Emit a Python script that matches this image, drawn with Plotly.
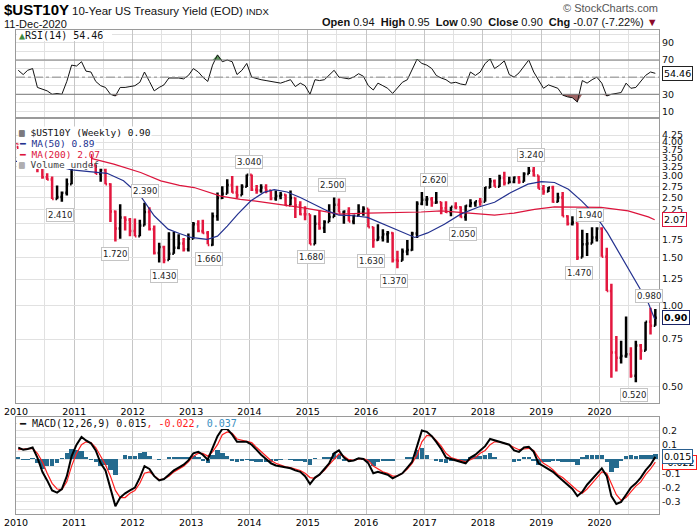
import numpy as np
import pandas as pd
import plotly.graph_objects as go

# ---- data: monthly bars, Jan 2010 .. Dec 2020 ----
bar_open = [
    3.84, 3.63, 3.61, 3.84, 3.69, 3.31, 2.97, 2.91, 2.47, 2.51, 2.60, 2.80,
    3.30, 3.38, 3.42, 3.47, 3.29, 3.06, 3.16, 2.80, 2.22, 1.92, 2.11, 2.07,
    1.88, 1.80, 1.97, 2.21, 1.91, 1.56, 1.64, 1.47, 1.55, 1.63, 1.69, 1.61,
    1.76, 1.99, 1.88, 1.85, 1.67, 2.13, 2.49, 2.58, 2.78, 2.61, 2.55, 2.74,
    3.03, 2.67, 2.65, 2.72, 2.65, 2.48, 2.53, 2.56, 2.34, 2.49, 2.34, 2.17,
    2.17, 1.68, 2.00, 1.93, 2.03, 2.12, 2.35, 2.20, 2.22, 2.04, 2.14, 2.21,
    2.27, 1.94, 1.74, 1.78, 1.83, 1.85, 1.47, 1.46, 1.58, 1.60, 1.84, 2.37,
    2.45, 2.46, 2.39, 2.40, 2.28, 2.21, 2.31, 2.30, 2.12, 2.33, 2.38, 2.42,
    2.41, 2.72, 2.87, 2.74, 2.95, 2.83, 2.85, 2.96, 2.86, 3.05, 3.14, 3.01,
    2.69, 2.63, 2.72, 2.41, 2.50, 2.13, 2.00, 2.02, 1.50, 1.68, 1.69, 1.78,
    1.92, 1.51, 1.13, 0.67, 0.64, 0.65, 0.66, 0.55, 0.71, 0.68, 0.87, 0.84,
]
bar_high = [
    3.86, 3.74, 3.90, 4.01, 3.69, 3.36, 3.07, 2.99, 2.77, 2.63, 2.94, 3.55,
    3.49, 3.77, 3.58, 3.60, 3.30, 3.19, 3.19, 2.82, 2.24, 2.36, 2.13, 2.10,
    2.09, 2.07, 2.39, 2.30, 1.97, 1.70, 1.66, 1.86, 1.87, 1.83, 1.77, 1.84,
    2.03, 2.06, 2.07, 1.88, 2.20, 2.61, 2.75, 2.92, 3.00, 2.76, 2.80, 3.04,
    3.04, 2.78, 2.80, 2.80, 2.66, 2.65, 2.62, 2.57, 2.65, 2.50, 2.42, 2.32,
    2.17, 2.15, 2.24, 2.06, 2.36, 2.50, 2.48, 2.24, 2.30, 2.16, 2.36, 2.32,
    2.27, 1.95, 1.99, 1.91, 1.88, 1.86, 1.59, 1.62, 1.74, 1.87, 2.42, 2.62,
    2.53, 2.51, 2.62, 2.41, 2.42, 2.31, 2.40, 2.32, 2.34, 2.46, 2.42, 2.49,
    2.73, 2.95, 2.91, 3.03, 3.11, 2.98, 2.99, 3.00, 3.10, 3.24, 3.24, 3.01,
    2.78, 2.73, 2.76, 2.60, 2.62, 2.15, 2.13, 2.02, 1.90, 1.85, 1.94, 1.94,
    1.94, 1.63, 1.20, 0.77, 0.74, 0.91, 0.70, 0.74, 0.72, 0.87, 0.98, 0.97,
]
bar_low = [
    3.58, 3.56, 3.58, 3.66, 3.10, 2.93, 2.90, 2.47, 2.46, 2.41, 2.54, 2.80,
    3.28, 3.38, 3.17, 3.28, 3.05, 2.86, 2.80, 2.03, 1.72, 1.76, 1.89, 1.80,
    1.80, 1.80, 1.97, 1.89, 1.54, 1.44, 1.43, 1.47, 1.55, 1.61, 1.58, 1.58,
    1.76, 1.86, 1.84, 1.68, 1.66, 2.05, 2.47, 2.58, 2.60, 2.48, 2.55, 2.73,
    2.64, 2.58, 2.60, 2.59, 2.44, 2.43, 2.46, 2.33, 2.34, 2.10, 2.15, 2.06,
    1.68, 1.68, 1.90, 1.85, 2.03, 2.12, 2.20, 2.00, 2.04, 1.99, 2.14, 2.14,
    1.94, 1.63, 1.73, 1.72, 1.70, 1.44, 1.37, 1.46, 1.53, 1.59, 1.77, 2.34,
    2.33, 2.31, 2.37, 2.17, 2.19, 2.13, 2.26, 2.11, 2.05, 2.30, 2.31, 2.33,
    2.41, 2.71, 2.74, 2.73, 2.77, 2.83, 2.82, 2.81, 2.86, 3.05, 2.99, 2.69,
    2.56, 2.62, 2.39, 2.40, 2.13, 1.97, 1.97, 1.47, 1.50, 1.52, 1.69, 1.72,
    1.51, 1.13, 0.54, 0.57, 0.61, 0.64, 0.54, 0.52, 0.63, 0.68, 0.78, 0.84,
]
bar_close = [
    3.63, 3.61, 3.84, 3.69, 3.31, 2.97, 2.91, 2.47, 2.51, 2.60, 2.80, 3.30,
    3.38, 3.42, 3.47, 3.29, 3.06, 3.16, 2.80, 2.22, 1.92, 2.11, 2.07, 1.88,
    1.80, 1.97, 2.21, 1.91, 1.56, 1.64, 1.47, 1.55, 1.63, 1.69, 1.61, 1.76,
    1.99, 1.88, 1.85, 1.67, 2.13, 2.49, 2.58, 2.78, 2.61, 2.55, 2.74, 3.03,
    2.67, 2.65, 2.72, 2.65, 2.48, 2.53, 2.56, 2.34, 2.49, 2.34, 2.17, 2.17,
    1.68, 2.00, 1.93, 2.03, 2.12, 2.35, 2.20, 2.22, 2.04, 2.14, 2.21, 2.27,
    1.94, 1.74, 1.78, 1.83, 1.85, 1.47, 1.46, 1.58, 1.60, 1.84, 2.37, 2.45,
    2.46, 2.39, 2.40, 2.28, 2.21, 2.31, 2.30, 2.12, 2.33, 2.38, 2.42, 2.41,
    2.72, 2.87, 2.74, 2.95, 2.83, 2.85, 2.96, 2.86, 3.05, 3.14, 3.01, 2.69,
    2.63, 2.72, 2.41, 2.50, 2.13, 2.00, 2.02, 1.50, 1.68, 1.69, 1.78, 1.92,
    1.51, 1.13, 0.67, 0.64, 0.65, 0.66, 0.55, 0.71, 0.68, 0.87, 0.84, 0.90,
]

ma50_dates = [
    "2010-01-01", "2010-07-01", "2010-12-15", "2011-04-10", "2011-07-25",
    "2011-11-05", "2012-02-20", "2012-05-15", "2012-08-10", "2012-10-20",
    "2013-01-01", "2013-04-10", "2013-06-15", "2013-08-15", "2013-10-20",
    "2014-01-10", "2014-04-01", "2014-06-05", "2014-08-25", "2014-11-15",
    "2015-02-10", "2015-05-05", "2015-07-15", "2015-10-15", "2016-01-10",
    "2016-04-20", "2016-08-05", "2016-11-01", "2017-01-20", "2017-05-05",
    "2017-08-15", "2017-12-01", "2018-03-15", "2018-06-25", "2018-10-10",
    "2019-01-01", "2019-03-25", "2019-06-20", "2019-09-10", "2019-12-01",
    "2020-02-20", "2020-05-15", "2020-08-10", "2020-11-01", "2020-12-11",
]
ma50_values = [
    3.40, 3.35, 3.16, 3.12, 3.07, 2.88, 2.53, 2.14, 1.91, 1.84,
    1.78, 1.75, 1.80, 1.96, 2.17, 2.43, 2.61, 2.67, 2.62, 2.50,
    2.36, 2.23, 2.15, 2.14, 2.11, 1.99, 1.88, 1.78, 1.85, 1.99,
    2.17, 2.30, 2.40, 2.61, 2.80, 2.86, 2.84, 2.68, 2.43, 2.17,
    1.85, 1.52, 1.24, 1.02, 0.89,
]
ma200_dates = [
    "2010-01-01", "2010-08-01", "2011-04-10", "2011-09-05", "2012-02-20",
    "2012-06-25", "2012-10-20", "2013-01-20", "2013-07-05", "2013-11-05",
    "2014-03-15", "2014-07-15", "2014-11-15", "2015-03-25", "2015-07-15",
    "2016-01-10", "2016-08-05", "2016-12-10", "2017-04-15", "2017-08-20",
    "2017-12-01", "2018-03-15", "2018-07-15", "2018-11-20", "2019-03-25",
    "2019-07-25", "2020-01-10", "2020-06-28", "2020-11-01", "2020-12-11",
]
ma200_values = [
    3.95, 3.70, 3.49, 3.32, 3.09, 2.88, 2.77, 2.72, 2.53, 2.46,
    2.41, 2.36, 2.30, 2.23, 2.17, 2.19, 2.20, 2.21, 2.23, 2.20,
    2.17, 2.15, 2.19, 2.26, 2.31, 2.30, 2.30, 2.23, 2.12, 2.07,
]

rsi_values = [
    58, 53, 58, 60, 38, 36, 34, 30, 31, 30, 45, 64,
    63, 68, 57, 56, 45, 40, 38, 30, 28, 38, 38, 39,
    40, 44, 56, 45, 34, 38, 41, 49, 49, 49, 48, 52,
    60, 56, 50, 45, 64, 76, 68, 70, 68, 53, 58, 66,
    50, 48, 47, 46, 45, 44, 43, 45, 47, 39, 43, 40,
    30, 47, 46, 47, 52, 58, 50, 49, 48, 50, 54, 51,
    40, 35, 43, 40, 37, 31, 38, 44, 47, 58, 71, 66,
    64, 60, 52, 49, 47, 43, 44, 42, 41, 56, 52, 56,
    66, 71, 60, 64, 69, 53, 50, 55, 62, 70, 56, 47,
    37, 41, 39, 37, 29, 27, 26, 21, 46, 43, 47, 50,
    43, 28, 30, 31, 32, 43, 37, 38, 45, 52, 56, 54.46,
]
macd_values = [
    0.08, 0.065, 0.07, 0.08, 0.01, -0.09, -0.15, -0.22, -0.235, -0.21, -0.12, 0.02,
    0.10, 0.155, 0.13, 0.11, 0.06, -0.03, -0.08, -0.20, -0.33, -0.27, -0.24, -0.22,
    -0.20, -0.13, -0.05, -0.07, -0.12, -0.15, -0.14, -0.11, -0.08, -0.06, -0.04, -0.01,
    0.04, 0.05, 0.03, -0.005, 0.08, 0.16, 0.21, 0.21, 0.17, 0.12, 0.12, 0.12,
    0.10, 0.06, 0.03, 0.00, -0.03, -0.045, -0.05, -0.055, -0.065, -0.08, -0.09, -0.12,
    -0.175, -0.13, -0.11, -0.07, -0.03, 0.04, 0.06, 0.01, -0.015, -0.01, 0.005, 0.00,
    -0.03, -0.10, -0.09, -0.10, -0.11, -0.135, -0.12, -0.10, -0.06, -0.02, 0.09, 0.20,
    0.19, 0.16, 0.12, 0.07, 0.01, 0.00, -0.005, -0.02, -0.03, 0.01, 0.03, 0.06,
    0.09, 0.14, 0.13, 0.12, 0.11, 0.10, 0.06, 0.05, 0.08, 0.085, 0.05, -0.03,
    -0.05, -0.07, -0.09, -0.12, -0.15, -0.18, -0.21, -0.26, -0.23, -0.18, -0.14, -0.10,
    -0.065, -0.12, -0.26, -0.315, -0.30, -0.25, -0.20, -0.17, -0.13, -0.08, -0.04, 0.015,
]
signal_values = [
    0.065, 0.07, 0.072, 0.075, 0.04, -0.02, -0.10, -0.17, -0.21, -0.215, -0.16, -0.05,
    0.04, 0.10, 0.12, 0.115, 0.08, 0.02, -0.04, -0.12, -0.22, -0.27, -0.27, -0.24,
    -0.22, -0.17, -0.10, -0.09, -0.12, -0.145, -0.14, -0.12, -0.09, -0.07, -0.05, -0.02,
    0.02, 0.04, 0.04, 0.02, 0.05, 0.10, 0.17, 0.19, 0.18, 0.14, 0.13, 0.125,
    0.115, 0.08, 0.05, 0.02, -0.01, -0.03, -0.045, -0.055, -0.06, -0.07, -0.08, -0.10,
    -0.13, -0.135, -0.11, -0.08, -0.04, 0.00, 0.035, 0.02, -0.005, -0.01, 0.00, 0.003,
    -0.01, -0.05, -0.07, -0.09, -0.10, -0.12, -0.12, -0.10, -0.07, -0.03, 0.03, 0.12,
    0.165, 0.16, 0.13, 0.09, 0.04, 0.01, 0.00, -0.01, -0.02, -0.005, 0.01, 0.04,
    0.06, 0.10, 0.12, 0.12, 0.11, 0.10, 0.08, 0.065, 0.07, 0.075, 0.06, 0.01,
    -0.03, -0.05, -0.075, -0.11, -0.13, -0.16, -0.19, -0.22, -0.24, -0.21, -0.17, -0.13,
    -0.09, -0.10, -0.17, -0.25, -0.29, -0.27, -0.23, -0.19, -0.16, -0.11, -0.07, -0.022,
]

# swing labels on the price panel
swing_dates = [
    "2010-10-01", "2011-01-25", "2011-09-15", "2012-03-18", "2012-07-16",
    "2013-04-22", "2013-12-27", "2015-01-20", "2015-06-01", "2016-02-01",
    "2016-06-25", "2017-03-03", "2017-08-28", "2018-10-26", "2019-08-23",
    "2019-11-01", "2020-08-04", "2020-11-06",
]
swing_values = [
    2.41, 3.77, 1.72, 2.39, 1.43, 1.66, 3.04, 1.68, 2.50, 1.63,
    1.37, 2.62, 2.05, 3.24, 1.47, 1.94, 0.52, 0.98,
]
swing_above = [
    False, True, False, True, False, False, True, False, True, False,
    False, True, False, True, False, True, False, True,
]

year_ticks = ["%d-01-01" % y for y in range(2010, 2021)]
price_ticks = [0.50, 0.75, 1.00, 1.25, 1.50, 1.75, 2.00, 2.25, 2.50, 2.75,
               3.00, 3.25, 3.50, 3.75, 4.00, 4.25]
price_tick_text = ["0.50", "0.75", "1.00", "1.25", "1.50", "1.75", "", "2.25", "2.50",
                   "2.75", "3.00", "3.25", "3.50", "3.75", "4.00", "4.25"]
rsi_ticks = [10, 30, 50, 70, 90]
rsi_tick_text = ["10", "30", "", "70", "90"]
macd_ticks = [-0.3, -0.2, -0.1, 0, 0.1, 0.2]
macd_tick_text = ["-0.3", "-0.2", "-0.1", "", "0.1", "0.2"]

# ---- layout helpers (pixel -> paper) ----
PLOT_L, PLOT_R, PLOT_T, PLOT_B = 16, 659, 30, 514


def px(x):
    return (x - PLOT_L) / (PLOT_R - PLOT_L)


def py(y):
    return (PLOT_B - y) / (PLOT_B - PLOT_T)


UP = "#000000"
DOWN = "#e3173e"
NAVY = "#23318f"
CRIMSON = "#dc143c"
HIST = "#246a8e"
GRID = "#e1e1e1"
YEARGRID = "#c6c6c6"
FRAME = "#9a9a9a"
MONO = "DejaVu Sans Mono"
SANS = "Liberation Sans"

months = pd.date_range("2010-01-01", periods=len(bar_close), freq="MS") + pd.Timedelta(days=14)
rsi = np.array(rsi_values)
macd = np.array(macd_values)
signal = np.array(signal_values)

fig = go.Figure()

# RSI panel
fig.add_trace(go.Scatter(x=months, y=np.full(len(rsi), 70.0), mode="lines",
                         line=dict(width=0), xaxis="x", yaxis="y", hoverinfo="skip"))
fig.add_trace(go.Scatter(x=months, y=np.maximum(rsi, 70), mode="lines", fill="tonexty",
                         fillcolor="#5f9c5f", line=dict(width=0), xaxis="x", yaxis="y",
                         hoverinfo="skip"))
fig.add_trace(go.Scatter(x=months, y=np.full(len(rsi), 30.0), mode="lines",
                         line=dict(width=0), xaxis="x", yaxis="y", hoverinfo="skip"))
fig.add_trace(go.Scatter(x=months, y=np.minimum(rsi, 30), mode="lines", fill="tonexty",
                         fillcolor="#9c6262", line=dict(width=0), xaxis="x", yaxis="y",
                         hoverinfo="skip"))
fig.add_trace(go.Scatter(x=months, y=rsi, mode="lines", line=dict(color="#111111", width=1),
                         xaxis="x", yaxis="y"))

# price panel
fig.add_trace(go.Ohlc(x=months, open=bar_open, high=bar_high, low=bar_low, close=bar_close,
                      increasing=dict(line=dict(color=UP, width=2.5)),
                      decreasing=dict(line=dict(color=DOWN, width=2.5)),
                      tickwidth=0.35, xaxis="x2", yaxis="y2"))
fig.add_trace(go.Scatter(x=pd.to_datetime(ma200_dates), y=ma200_values, mode="lines",
                         line=dict(color=CRIMSON, width=1.2), xaxis="x2", yaxis="y2"))
fig.add_trace(go.Scatter(x=pd.to_datetime(ma50_dates), y=ma50_values, mode="lines",
                         line=dict(color=NAVY, width=1.2), xaxis="x2", yaxis="y2"))

# MACD panel
fig.add_trace(go.Bar(x=months, y=macd - signal, marker=dict(color=HIST, line=dict(width=0)),
                     xaxis="x3", yaxis="y3"))
fig.add_trace(go.Scatter(x=months, y=signal, mode="lines", line=dict(color="#ff2020", width=1.2),
                         xaxis="x3", yaxis="y3"))
fig.add_trace(go.Scatter(x=months, y=macd, mode="lines", line=dict(color="#000000", width=2),
                         xaxis="x3", yaxis="y3"))

x_range = ["2010-01-01", "2021-01-07"]


def x_axis(anchor, labels):
    return dict(
        type="date", range=x_range, anchor=anchor, showticklabels=labels,
        tickmode="array", tickvals=year_ticks, tickformat="%Y", automargin=False,
        tickfont=dict(family="DejaVu Sans", size=9.5, color="#000"),
        showgrid=True, gridcolor=YEARGRID, gridwidth=1,
        minor=dict(dtick="M6", tick0="2010-01-01", showgrid=True, gridcolor=GRID),
        showline=True, mirror=True, linecolor=FRAME, linewidth=1,
        zeroline=False, fixedrange=True,
    )


xa1 = x_axis("y", False)
xa2 = x_axis("y2", True)
xa2["matches"] = "x"
xa2["rangeslider"] = dict(visible=False)
xa3 = x_axis("y3", True)
xa3["matches"] = "x"

tickfont = dict(family="DejaVu Sans", size=9.5, color="#111")

fig.update_layout(
    width=700, height=530,
    margin=dict(l=PLOT_L, r=700 - PLOT_R, t=PLOT_T, b=530 - PLOT_B, pad=0),
    paper_bgcolor="white", plot_bgcolor="white",
    showlegend=False, bargap=0,
    font=dict(family="DejaVu Sans", size=10, color="#111"),
    xaxis=xa1, xaxis2=xa2, xaxis3=xa3,
    yaxis=dict(domain=[py(117), 1], range=[3.5, 105], side="right", anchor="x",
               tickvals=rsi_ticks, ticktext=rsi_tick_text, tickfont=tickfont,
               showgrid=False, automargin=False,
               minor=dict(dtick=10, tick0=0, showgrid=True, gridcolor=GRID),
               showline=True, mirror=True, linecolor=FRAME, zeroline=False),
    yaxis2=dict(domain=[py(403), py(119)], type="log",
                range=[np.log10(0.436), np.log10(4.87)], side="right", anchor="x2",
                tickvals=price_ticks, ticktext=price_tick_text, automargin=False,
                tickfont=tickfont, showgrid=True, gridcolor=GRID,
                showline=True, mirror=True, linecolor=FRAME, zeroline=False),
    yaxis3=dict(domain=[0, py(417)], range=[-0.385, 0.294], side="right", anchor="x3",
                tickvals=macd_ticks, ticktext=macd_tick_text, tickfont=tickfont,
                showgrid=True, gridcolor=GRID, automargin=False,
                minor=dict(dtick=0.05, tick0=0, showgrid=True, gridcolor=GRID),
                showline=True, mirror=True, linecolor=FRAME, zeroline=False),
)

# RSI reference lines
for level, dash, colour in [(70, "solid", "#7a7a7a"), (30, "solid", "#7a7a7a"),
                            (50, "dashdot", "#8a8a8a")]:
    fig.add_shape(type="line", xref="x domain", yref="y", x0=0, x1=1, y0=level, y1=level,
                  line=dict(color=colour, width=1, dash=dash))

# swing labels
for d, v, up in zip(swing_dates, swing_values, swing_above):
    fig.add_annotation(x=d, y=np.log10(v), xref="x2", yref="y2", text="%.3f" % v,
                       showarrow=False, yshift=12 if up else -13,
                       font=dict(family="DejaVu Sans", size=8.5, color="#222"),
                       bgcolor="white", bordercolor="#c4c4c4", borderwidth=1, borderpad=1)

# white blocks behind the in-panel legends (one per legend row)
for x0, x1, y0, y1 in [(17, 112, 31, 41), (17, 91, 149, 159),
                       (17, 91, 159, 169), (17, 240, 417, 429)]:
    fig.add_shape(type="rect", xref="paper", yref="paper", x0=px(x0), x1=px(x1),
                  y0=py(y1), y1=py(y0), fillcolor="white", line=dict(width=0), layer="above")


def note(x, y, text, size=10, family=MONO, color="#111", anchor="left", **kw):
    fig.add_annotation(x=px(x), y=py(y), xref="paper", yref="paper", text=text,
                       showarrow=False, xanchor=anchor, yanchor="middle",
                       font=dict(family=family, size=size, color=color),
                       borderpad=0, **kw)


# header
note(3, 10, "<b>$UST10Y</b>", size=15, family=SANS, color="#000")
note(71, 11, "10-Year US Treasury Yield (EOD) <span style='font-size:9.5px'>INDX</span>",
     size=11.5, family=SANS, color="#111")
note(3, 24, "11-Dec-2020", size=11, family=SANS, color="#111")
note(659, 22, "<b>Open</b> 0.94  <b>High</b> 0.95  <b>Low</b> 0.90  <b>Close</b> 0.90  "
     "<b>Chg</b> -0.07 (-7.22%) <span style='color:#8b0a2a'>▼</span>",
     size=11, family=SANS, color="#111", anchor="right")
note(659, 8, "© StockCharts.com", size=11, family=SANS, color="#555", anchor="right")

# panel legends (the rows sit on top of the 2011 swing label, as in the original)
note(18, 36, "<span style='color:#3f8a3f'>▲</span>RSI(14) 54.46")
note(18, 132, "▥ $UST10Y (Weekly) 0.90", size=9.5, bgcolor="white")
note(18, 143.5, "<span style='color:%s'>━ MA(50) 0.89</span>" % NAVY, size=9.5,
     bgcolor="white")
note(18, 154, "<span style='color:%s'>━ MA(200) 2.07</span>" % CRIMSON, size=9.5)
note(18, 164.5, "<span style='color:#777'>▥</span> Volume undef", size=9.5, color="#444")
note(18, 423, "━ MACD(12,26,9) 0.015<span style='color:#ff1a1a'>, -0.022</span>"
     "<span style='color:#3a8fc0'>, 0.037</span>")


def value_box(y, yref, text, border, bold=False):
    fig.add_annotation(x=px(662), y=y, xref="paper", yref=yref, xanchor="left",
                       yanchor="middle", text="<b>%s</b>" % text if bold else text,
                       showarrow=False, font=dict(family="DejaVu Sans", size=9.5, color="#000"),
                       bgcolor="white", bordercolor=border, borderwidth=1, borderpad=1)


value_box(54.46, "y", "54.46", "#222")
value_box(np.log10(2.07), "y2", "2.07", CRIMSON)
value_box(np.log10(0.90), "y2", "0.90", "#1a2466", bold=True)
value_box(-0.022, "y3", "-0.022", "#ff1a1a")
value_box(0.015, "y3", "0.015", "#2a5f8f")

# the page's default body margin would push the 700x530 figure off the window
fig.write_html("out.html", config={"displayModeBar": False},
               post_script="document.body.style.margin='0';")
